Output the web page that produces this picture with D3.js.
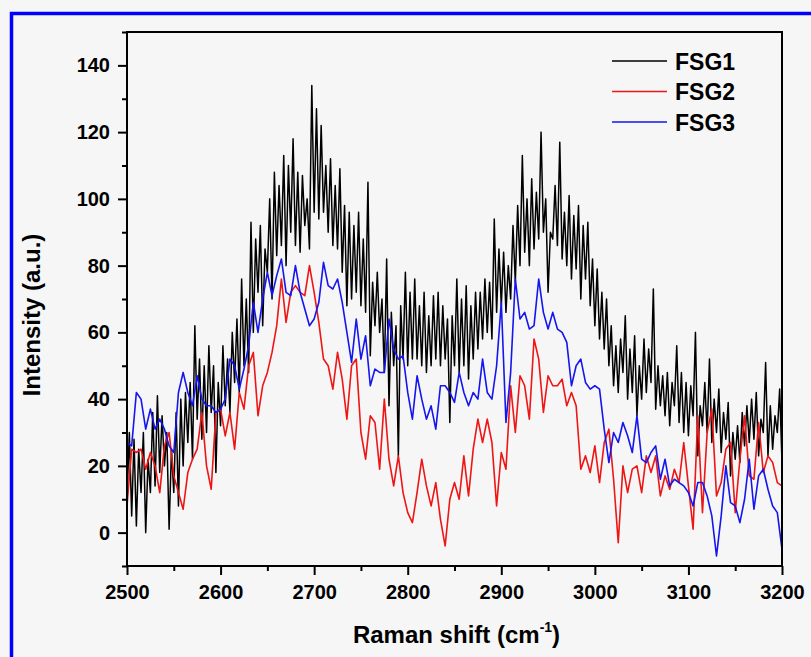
<!DOCTYPE html>
<html>
<head>
<meta charset="utf-8">
<script src="https://cdn.jsdelivr.net/npm/d3@7"></script>
<style>
  html, body { margin: 0; padding: 0; background: #f6f6f6; }
  svg { display: block; }
  text { font-family: Arial, "Liberation Sans", sans-serif; font-weight: bold; fill: #000; }
</style>
</head>
<body>
<svg id="chart" width="811" height="657"></svg>
<script>
// ---- data: Raman shift 2500..3200 cm-1 ----
const xStart = 2500;
const fsg1Step = 2.5;   // FSG1 sampled every 2.5 cm-1
const fsgStep = 5;      // FSG2 / FSG3 sampled every 5 cm-1
const seriesNames = ["FSG1", "FSG2", "FSG3"];
const seriesColors = ["#000000", "#ee1515", "#1515ee"];

const fsg1 = [
  10,30,5,28,2,25,12,30,0,22,
  12,36,14,41,18,35,20,30,1,25,
  12,36,8,40,20,42,27,45,22,62,
  34,52,28,50,30,56,36,50,18,45,
  32,56,38,52,36,60,45,64,42,76,
  50,70,48,93,60,88,72,92,62,85,
  78,100,70,108,83,104,86,113,80,110,
  90,118,86,108,84,107,92,100,85,134,
  96,127,94,122,96,110,90,112,86,104,
  85,109,78,98,68,96,70,92,72,96,
  68,88,66,105,53,75,62,78,60,70,
  48,82,38,66,50,62,23,68,52,78,
  50,72,52,76,52,68,50,72,48,65,
  50,71,52,72,50,68,52,64,33,65,
  50,76,48,70,50,74,46,68,52,72,
  55,72,58,76,60,75,58,94,66,85,
  68,84,66,80,70,92,75,98,80,113,
  84,100,80,106,85,102,88,120,90,100,
  72,90,88,104,86,117,82,96,80,101,
  76,95,79,98,70,92,76,93,68,82,
  62,79,58,72,55,70,50,62,44,56,
  42,58,48,65,40,55,42,59,35,50,
  40,58,42,55,45,73,37,50,38,47,
  35,48,32,45,38,56,33,48,30,45,
  29,44,35,60,23,38,32,45,30,52,
  27,40,30,43,24,36,28,39,17,30,
  22,32,21,36,26,38,27,40,28,42,
  23,34,30,51,23,38,25,35,30,43,
  21
];

const fsg2 = [
  8,25,24,25,19,24,20,12,26,30,
  17,12,7,18,22,25,36,20,13,36,
  37,29,36,25,42,37,50,54,35,44,
  48,54,62,76,63,72,74,72,71,80,
  72,63,52,50,43,54,46,34,50,52,
  30,22,35,33,19,40,22,14,23,12,
  6,3,12,22,14,8,15,4,-4,10,
  15,10,23,11,25,34,27,34,27,8,
  24,19,44,30,47,44,34,58,52,36,
  47,44,44,46,38,42,38,19,23,18,
  26,15,27,31,16,-3,20,12,19,20,
  12,23,18,23,11,17,13,19,15,27,
  14,1,35,6,30,37,11,15,25,27,
  6,22,35,17,16,33,18,23,21,15,
  14
];

const fsg3 = [
  27,26,42,40,31,37,31,34,31,26,
  24,42,48,42,38,47,40,38,38,36,
  37,40,52,50,43,49,56,69,60,70,
  78,71,77,82,72,71,80,72,67,62,
  64,69,81,74,73,76,69,60,51,64,
  52,59,44,49,48,48,64,55,52,53,
  42,34,47,40,34,38,31,44,44,42,
  39,48,42,38,42,40,52,42,40,50,
  69,33,48,76,64,66,61,62,76,66,
  61,66,61,60,57,44,50,52,45,43,
  44,43,31,21,30,27,33,29,24,35,
  22,21,24,26,16,22,14,16,15,14,
  12,8,15,15,11,5,-7,5,20,9,
  8,3,10,22,7,17,19,13,8,6,
  -5
];

const xTicks = [2500, 2600, 2700, 2800, 2900, 3000, 3100, 3200];
const yTicks = [0, 20, 40, 60, 80, 100, 120, 140];
const xDomain = [2500, 3200];
const yDomain = [-10, 150];
const xTitle = "Raman shift (cm";
const xTitleSup = "-1";
const yTitle = "Intensity (a.u.)";

// ---- layout ----
const svg = d3.select("#chart");
const W = 811, H = 657;
const plot = { left: 127, right: 782, top: 32, bottom: 566 };

svg.append("rect").attr("x", 0).attr("y", 0).attr("width", W).attr("height", H).attr("fill", "#f6f6f6");
// outer blue frame
svg.append("rect")
  .attr("x", 11.5).attr("y", 13.5).attr("width", 840).attr("height", 700)
  .attr("fill", "none").attr("stroke", "#0000ff").attr("stroke-width", 3.5);

const x = d3.scaleLinear().domain(xDomain).range([plot.left, plot.right]);
const y = d3.scaleLinear().domain(yDomain).range([plot.bottom, plot.top]);

svg.append("defs").append("clipPath").attr("id", "clip")
  .append("rect").attr("x", plot.left).attr("y", plot.top)
  .attr("width", plot.right - plot.left).attr("height", plot.bottom - plot.top);

const series = [
  { values: fsg1, step: fsg1Step, width: 1.5 },
  { values: fsg2, step: fsgStep, width: 1.6 },
  { values: fsg3, step: fsgStep, width: 1.6 }
];

const gLines = svg.append("g").attr("clip-path", "url(#clip)");
series.forEach((s, k) => {
  const line = d3.line()
    .x((d, i) => x(xStart + i * s.step))
    .y(d => y(d));
  gLines.append("path")
    .datum(s.values)
    .attr("d", line)
    .attr("fill", "none")
    .attr("stroke", seriesColors[k])
    .attr("stroke-width", s.width)
    .attr("stroke-linejoin", "round");
});

// frame
svg.append("rect")
  .attr("x", plot.left).attr("y", plot.top)
  .attr("width", plot.right - plot.left).attr("height", plot.bottom - plot.top)
  .attr("fill", "none").attr("stroke", "#000").attr("stroke-width", 2);

// axes
const xAxis = d3.axisBottom(x).tickValues(xTicks).tickSize(9).tickPadding(10).tickFormat(d3.format("d"));
const xMinor = d3.axisBottom(x).tickValues(d3.range(2550, 3200, 100)).tickSize(5).tickFormat("");
const yAxis = d3.axisLeft(y).tickValues(yTicks).tickSize(9).tickPadding(8).tickFormat(d3.format("d"));
const yMinor = d3.axisLeft(y).tickValues(d3.range(-10, 151, 20)).tickSize(5).tickFormat("");

function styleAxis(g) {
  g.select(".domain").remove();
  g.selectAll("line").attr("stroke", "#000").attr("stroke-width", 2);
  g.selectAll("text").attr("font-size", 20).attr("font-weight", "bold")
    .attr("font-family", "Arial, 'Liberation Sans', sans-serif").attr("fill", "#000");
}

svg.append("g").attr("transform", `translate(0,${plot.bottom})`).call(xAxis).call(styleAxis);
svg.append("g").attr("transform", `translate(0,${plot.bottom})`).call(xMinor).call(styleAxis);
svg.append("g").attr("transform", `translate(${plot.left},0)`).call(yAxis).call(styleAxis);
svg.append("g").attr("transform", `translate(${plot.left},0)`).call(yMinor).call(styleAxis);

// axis titles
const xt = svg.append("text")
  .attr("x", (plot.left + plot.right) / 2 + 2).attr("y", 643)
  .attr("text-anchor", "middle").attr("font-size", 24);
xt.append("tspan").text(xTitle);
xt.append("tspan").attr("font-size", 14).attr("dy", -11).text(xTitleSup);
xt.append("tspan").attr("dy", 11).text(")");

svg.append("text")
  .attr("transform", `translate(40,${315}) rotate(-90)`)
  .attr("text-anchor", "middle").attr("font-size", 24)
  .text(yTitle);

// legend
const legend = svg.append("g");
seriesNames.forEach((name, k) => {
  const ly = 61 + k * 30.5;
  legend.append("line")
    .attr("x1", 612).attr("x2", 667).attr("y1", ly).attr("y2", ly)
    .attr("stroke", seriesColors[k]).attr("stroke-width", 1.6);
  legend.append("text")
    .attr("x", 675).attr("y", ly + 8.5)
    .attr("font-size", 23).text(name);
});
</script>
</body>
</html>
